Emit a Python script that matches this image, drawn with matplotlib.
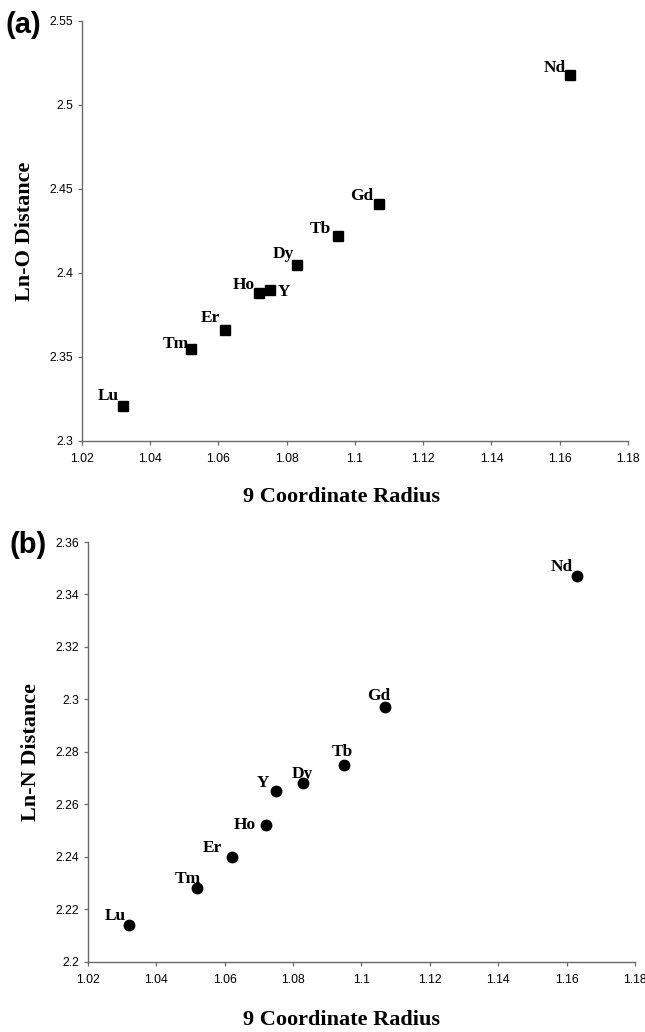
import numpy as np
import matplotlib.pyplot as plt

# lanthanide 9-coordinate radii and bond distances
elements = ["Nd", "Gd", "Tb", "Dy", "Y", "Ho", "Er", "Tm", "Lu"]
radius = [1.163, 1.107, 1.095, 1.083, 1.075, 1.072, 1.062, 1.052, 1.032]
ln_o = [2.518, 2.441, 2.422, 2.405, 2.390, 2.388, 2.366, 2.355, 2.321]
ln_n = [2.347, 2.297, 2.275, 2.268, 2.265, 2.252, 2.240, 2.228, 2.214]

# label placement: offset in points from the marker, horizontal alignment
offs_a = {"Nd": (-3, 2, "right"), "Gd": (-4, 3, "right"), "Tb": (-5, 2.5, "right"),
          "Dy": (-2, 4.5, "right"), "Y": (5.5, -4.6, "left"), "Ho": (-3, 3, "right"),
          "Er": (-3.6, 5.8, "right"), "Tm": (-1.5, 0.7, "right"), "Lu": (-3, 3.8, "right")}
offs_b = {"Nd": (-3, 3.6, "right"), "Gd": (-4.9, 5, "center"), "Tb": (-1.4, 6.3, "center"),
          "Dy": (-0.8, 4, "center"), "Y": (-5, 3, "right"), "Ho": (-6.8, -3.1, "right"),
          "Er": (-7.1, 3.2, "right"), "Tm": (-6.6, 4, "center"), "Lu": (-2.4, 3.6, "right")}

serif_bold = dict(family="Liberation Serif", weight="bold")
axis_grey = "#6a6a6a"

fig = plt.figure(figsize=(6.45, 10.32), dpi=100)
ax1 = fig.add_axes([0.1271, 0.5727, 0.8465, 0.407])
ax2 = fig.add_axes([0.1364, 0.0683, 0.848, 0.4065])


def style(ax, ylim, yticks, ylabel, xlab_pos, ylab_pos):
    for s in ["top", "right"]:
        ax.spines[s].set_visible(False)
    for s in ["left", "bottom"]:
        ax.spines[s].set_color(axis_grey)
        ax.spines[s].set_linewidth(1.0)
    ax.set_xlim(1.02, 1.18)
    ax.set_ylim(*ylim)
    ax.set_xticks(np.arange(1.02, 1.1801, 0.02))
    ax.set_xticklabels(["1.02", "1.04", "1.06", "1.08", "1.1", "1.12",
                        "1.14", "1.16", "1.18"])
    ax.set_yticks(yticks)
    ax.set_yticklabels([("%g" % v) for v in yticks])
    ax.tick_params(direction="out", length=3, width=0.9, color=axis_grey,
                   labelsize=8.8)
    ax.tick_params(axis="x", pad=6)
    ax.tick_params(axis="y", pad=3.5)
    for lab in ax.get_xticklabels() + ax.get_yticklabels():
        lab.set_family("Liberation Sans")
    ax.set_xlabel("9 Coordinate Radius", fontsize=16, va="center", **serif_bold)
    ax.set_ylabel(ylabel, fontsize=16, va="center", **serif_bold)
    ax.xaxis.set_label_coords(*xlab_pos)
    ax.yaxis.set_label_coords(*ylab_pos)


def label_points(ax, ys, offs):
    for el, x, y in zip(elements, radius, ys):
        dx, dy, ha = offs[el]
        ax.annotate(el, (x, y), xytext=(dx, dy), textcoords="offset points",
                    ha=ha, va="baseline", fontsize=12.5, **serif_bold)


style(ax1, (2.3, 2.55), np.round(np.arange(2.3, 2.5501, 0.05), 2),
      "Ln-O Distance", (0.476, -0.133), (-0.104, 0.5))
ax1.plot(radius, ln_o, "s", color="black", ms=6.5, clip_on=False)
label_points(ax1, ln_o, offs_a)

style(ax2, (2.2, 2.36), np.round(np.arange(2.2, 2.3601, 0.02), 2),
      "Ln-N Distance", (0.464, -0.139), (-0.104, 0.5))
ax2.plot(radius, ln_n, "o", color="black", ms=7.5, clip_on=False)
label_points(ax2, ln_n, offs_b)

fig.text(0.009, 1 - 25 / 1032, "(a)", fontsize=21, weight="bold",
         family="Liberation Sans", va="center", ha="left")
fig.text(0.015, 1 - 545 / 1032, "(b)", fontsize=21, weight="bold",
         family="Liberation Sans", va="center", ha="left")

fig.savefig("out.png", dpi=100)
